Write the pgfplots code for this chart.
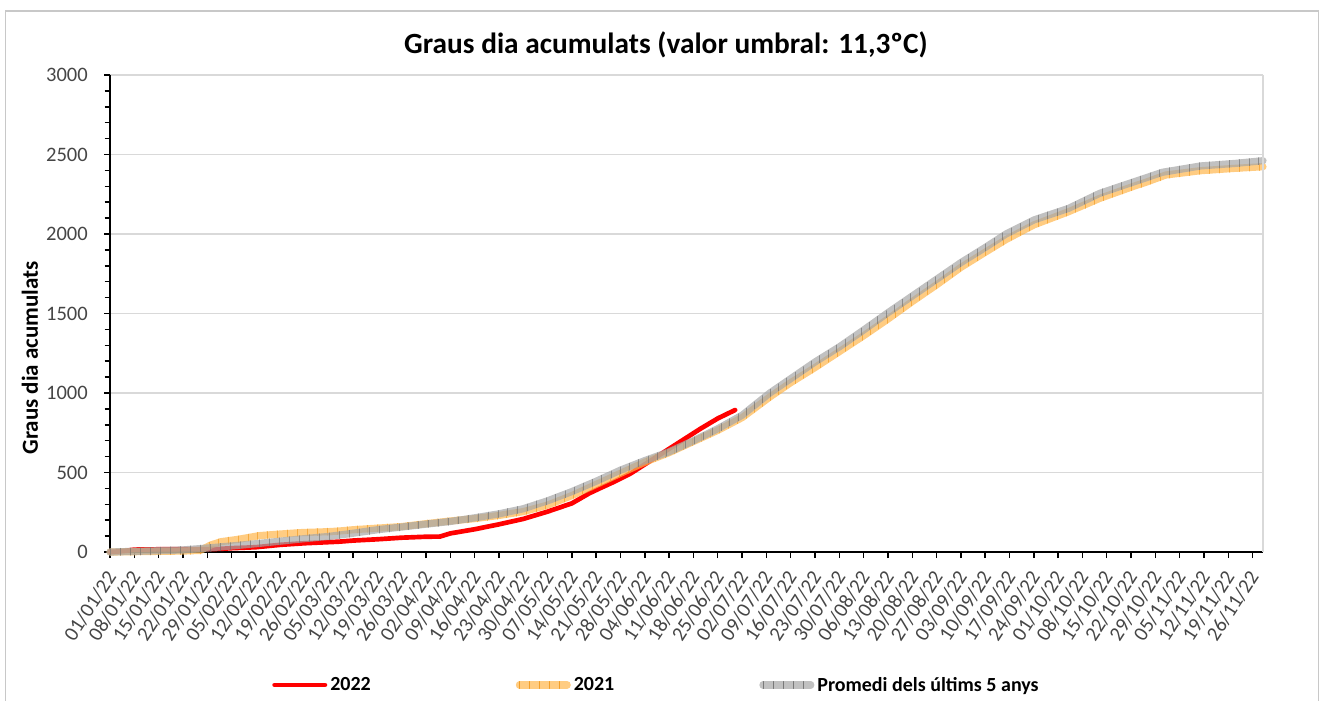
\documentclass[border=0pt]{standalone}
\usepackage{fontspec}
\setmainfont{Carlito}
\usepackage{pgfplots}
\pgfplotsset{compat=1.18}
\usepackage{pgfplotstable}
\usetikzlibrary{decorations.markings}

\definecolor{tickgray}{HTML}{464646}
\definecolor{gridgray}{HTML}{D9D9D9}
\definecolor{framegray}{HTML}{C8C8C8}
\definecolor{c21}{HTML}{FFB74D}
\definecolor{c21t}{HTML}{F29A1F}
\definecolor{cav}{HTML}{A6A6A6}
\definecolor{cavt}{HTML}{707070}

\tikzset{hatch/.style={postaction={decorate,decoration={markings,mark=between positions 0 and 1 step 7.5pt with {\pgftransformresetnontranslations\draw[#1,line width=0.35pt,opacity=0.65] (0,-2.7pt)--(0,2.7pt);}}}}}

\pgfplotstableread{
day val
0 0
4 6
7 15
14 17
21 18
28 18
32 20
35 24
42 30
49 45
56 55
63 62
66 65
70 72
77 80
84 90
91 96
95 97
98 117
105 143
112 174
119 208
126 254
133 306
138 369
141 400
145 440
150 495
155 565
160 635
165 705
170 775
175 840
180 893
}\datatwentytwo

\pgfplotstableread{
day val
0 0
7 2
14 4
21 6
26 10
29 44
32 65
37 80
43 103
49 113
55 122
63 128
66 132
70 140
77 150
84 160
91 178
98 195
105 210
112 230
119 254
126 295
133 355
140 425
147 495
154 565
161 625
168 695
175 765
182 845
190 975
196 1065
203 1160
210 1260
217 1360
224 1465
231 1575
238 1680
245 1790
252 1885
258 1965
266 2057
276 2140
285 2224
295 2302
298 2323
304 2371
314 2398
324 2413
332 2423
}\datatwentyone

\pgfplotstableread{
day val
0 0
7 4
14 8
21 13
28 25
35 38
42 52
49 68
56 84
63 98
70 118
77 140
84 157
91 175
98 192
105 215
112 240
119 272
126 322
133 380
140 445
147 515
154 575
161 630
168 700
175 775
182 860
190 1000
196 1090
203 1195
210 1290
217 1396
224 1505
231 1610
238 1715
245 1820
252 1915
258 2000
266 2088
276 2161
285 2256
295 2329
303 2388
314 2428
324 2444
332 2461
}\dataavg

\begin{document}
\begin{tikzpicture}
\useasboundingbox (0pt,0pt) rectangle (990.75pt,525pt);
\draw[framegray, line width=1pt] (4.125pt,-3pt) -- (4.125pt,516.75pt) -- (988.9pt,516.75pt) -- (988.9pt,-3pt);
\node[font=\fontsize{22}{26}\selectfont\bfseries] at (499.5pt,491.25pt) {Graus dia acumulats (valor umbral: 11,3ºC)};
\node[rotate=90, font=\fontsize{17.25}{20}\selectfont\bfseries] at (22.5pt,256.5pt) {Graus dia acumulats};
\begin{axis}[
  at={(82.5pt,111pt)}, anchor=south west,
  scale only axis, width=864.75pt, height=357.75pt,
  xmin=0, xmax=332, ymin=0, ymax=3000,
  clip=false,
  axis lines*=left,
  axis line style={black, line width=1.3pt, -},
  xtick={0,7,...,329},
  xticklabels={01/01/22,08/01/22,15/01/22,22/01/22,29/01/22,05/02/22,12/02/22,19/02/22,26/02/22,05/03/22,12/03/22,19/03/22,26/03/22,02/04/22,09/04/22,16/04/22,23/04/22,30/04/22,07/05/22,14/05/22,21/05/22,28/05/22,04/06/22,11/06/22,18/06/22,25/06/22,02/07/22,09/07/22,16/07/22,23/07/22,30/07/22,06/08/22,13/08/22,20/08/22,27/08/22,03/09/22,10/09/22,17/09/22,24/09/22,01/10/22,08/10/22,15/10/22,22/10/22,29/10/22,05/11/22,12/11/22,19/11/22,26/11/22},
  ytick={0,500,...,3000},
  minor y tick num=4,
  tick align=outside,
  major tick length=4.5pt, minor tick length=4pt,
  tick style={black, line width=1.1pt},
  ymajorgrids, grid style={gridgray, line width=1.1pt},
  ticklabel style={font=\fontsize{15.4}{16}\selectfont, text=tickgray},
  /pgf/number format/assume math mode=true,
  /pgf/number format/set thousands separator={},
  xticklabel style={rotate=57, anchor=east, inner sep=0pt, xshift=2pt},
  xticklabel shift=13pt,
  yticklabel style={inner sep=0pt},
  yticklabel shift=12pt,
  legend columns=3,
  legend style={at={(0.1405,-0.2788)}, anchor=west, draw=none, fill=none, inner sep=0pt,
    font=\fontsize{15}{18}\selectfont\bfseries,
    /tikz/every odd column/.append style={column sep=2.25pt},
    /tikz/every even column/.append style={column sep=108.75pt},
    nodes={inner sep=0pt, text=black}},
]
\addplot[red, line width=3.5pt, line cap=round, line join=round,
  legend image code/.code={\draw[red, line width=3.5pt, line cap=round] (1.75pt,0pt) -- (39.5pt,0pt);}]
  table[x=day,y=val] {\datatwentytwo};
\addlegendentry{2022}
\addplot[c21, opacity=0.7, line width=5.4pt, line cap=round, line join=round, hatch=c21t,
  legend image code/.code={\draw[c21, opacity=0.7, line width=5.4pt, line cap=round, hatch=c21t] (2.7pt,0pt) -- (38.55pt,0pt);}]
  table[x=day,y=val] {\datatwentyone};
\addlegendentry{2021}
\addplot[cav, opacity=0.7, line width=5.4pt, line cap=round, line join=round, hatch=cavt,
  legend image code/.code={\draw[cav, opacity=0.7, line width=5.4pt, line cap=round, hatch=cavt] (2.7pt,0pt) -- (38.55pt,0pt);}]
  table[x=day,y=val] {\dataavg};
\addlegendentry{Promedi dels últims 5 anys}
\draw[gridgray, line width=1.6pt] (rel axis cs:1,0) -- (rel axis cs:1,1);
\end{axis}
\end{tikzpicture}
\end{document}
